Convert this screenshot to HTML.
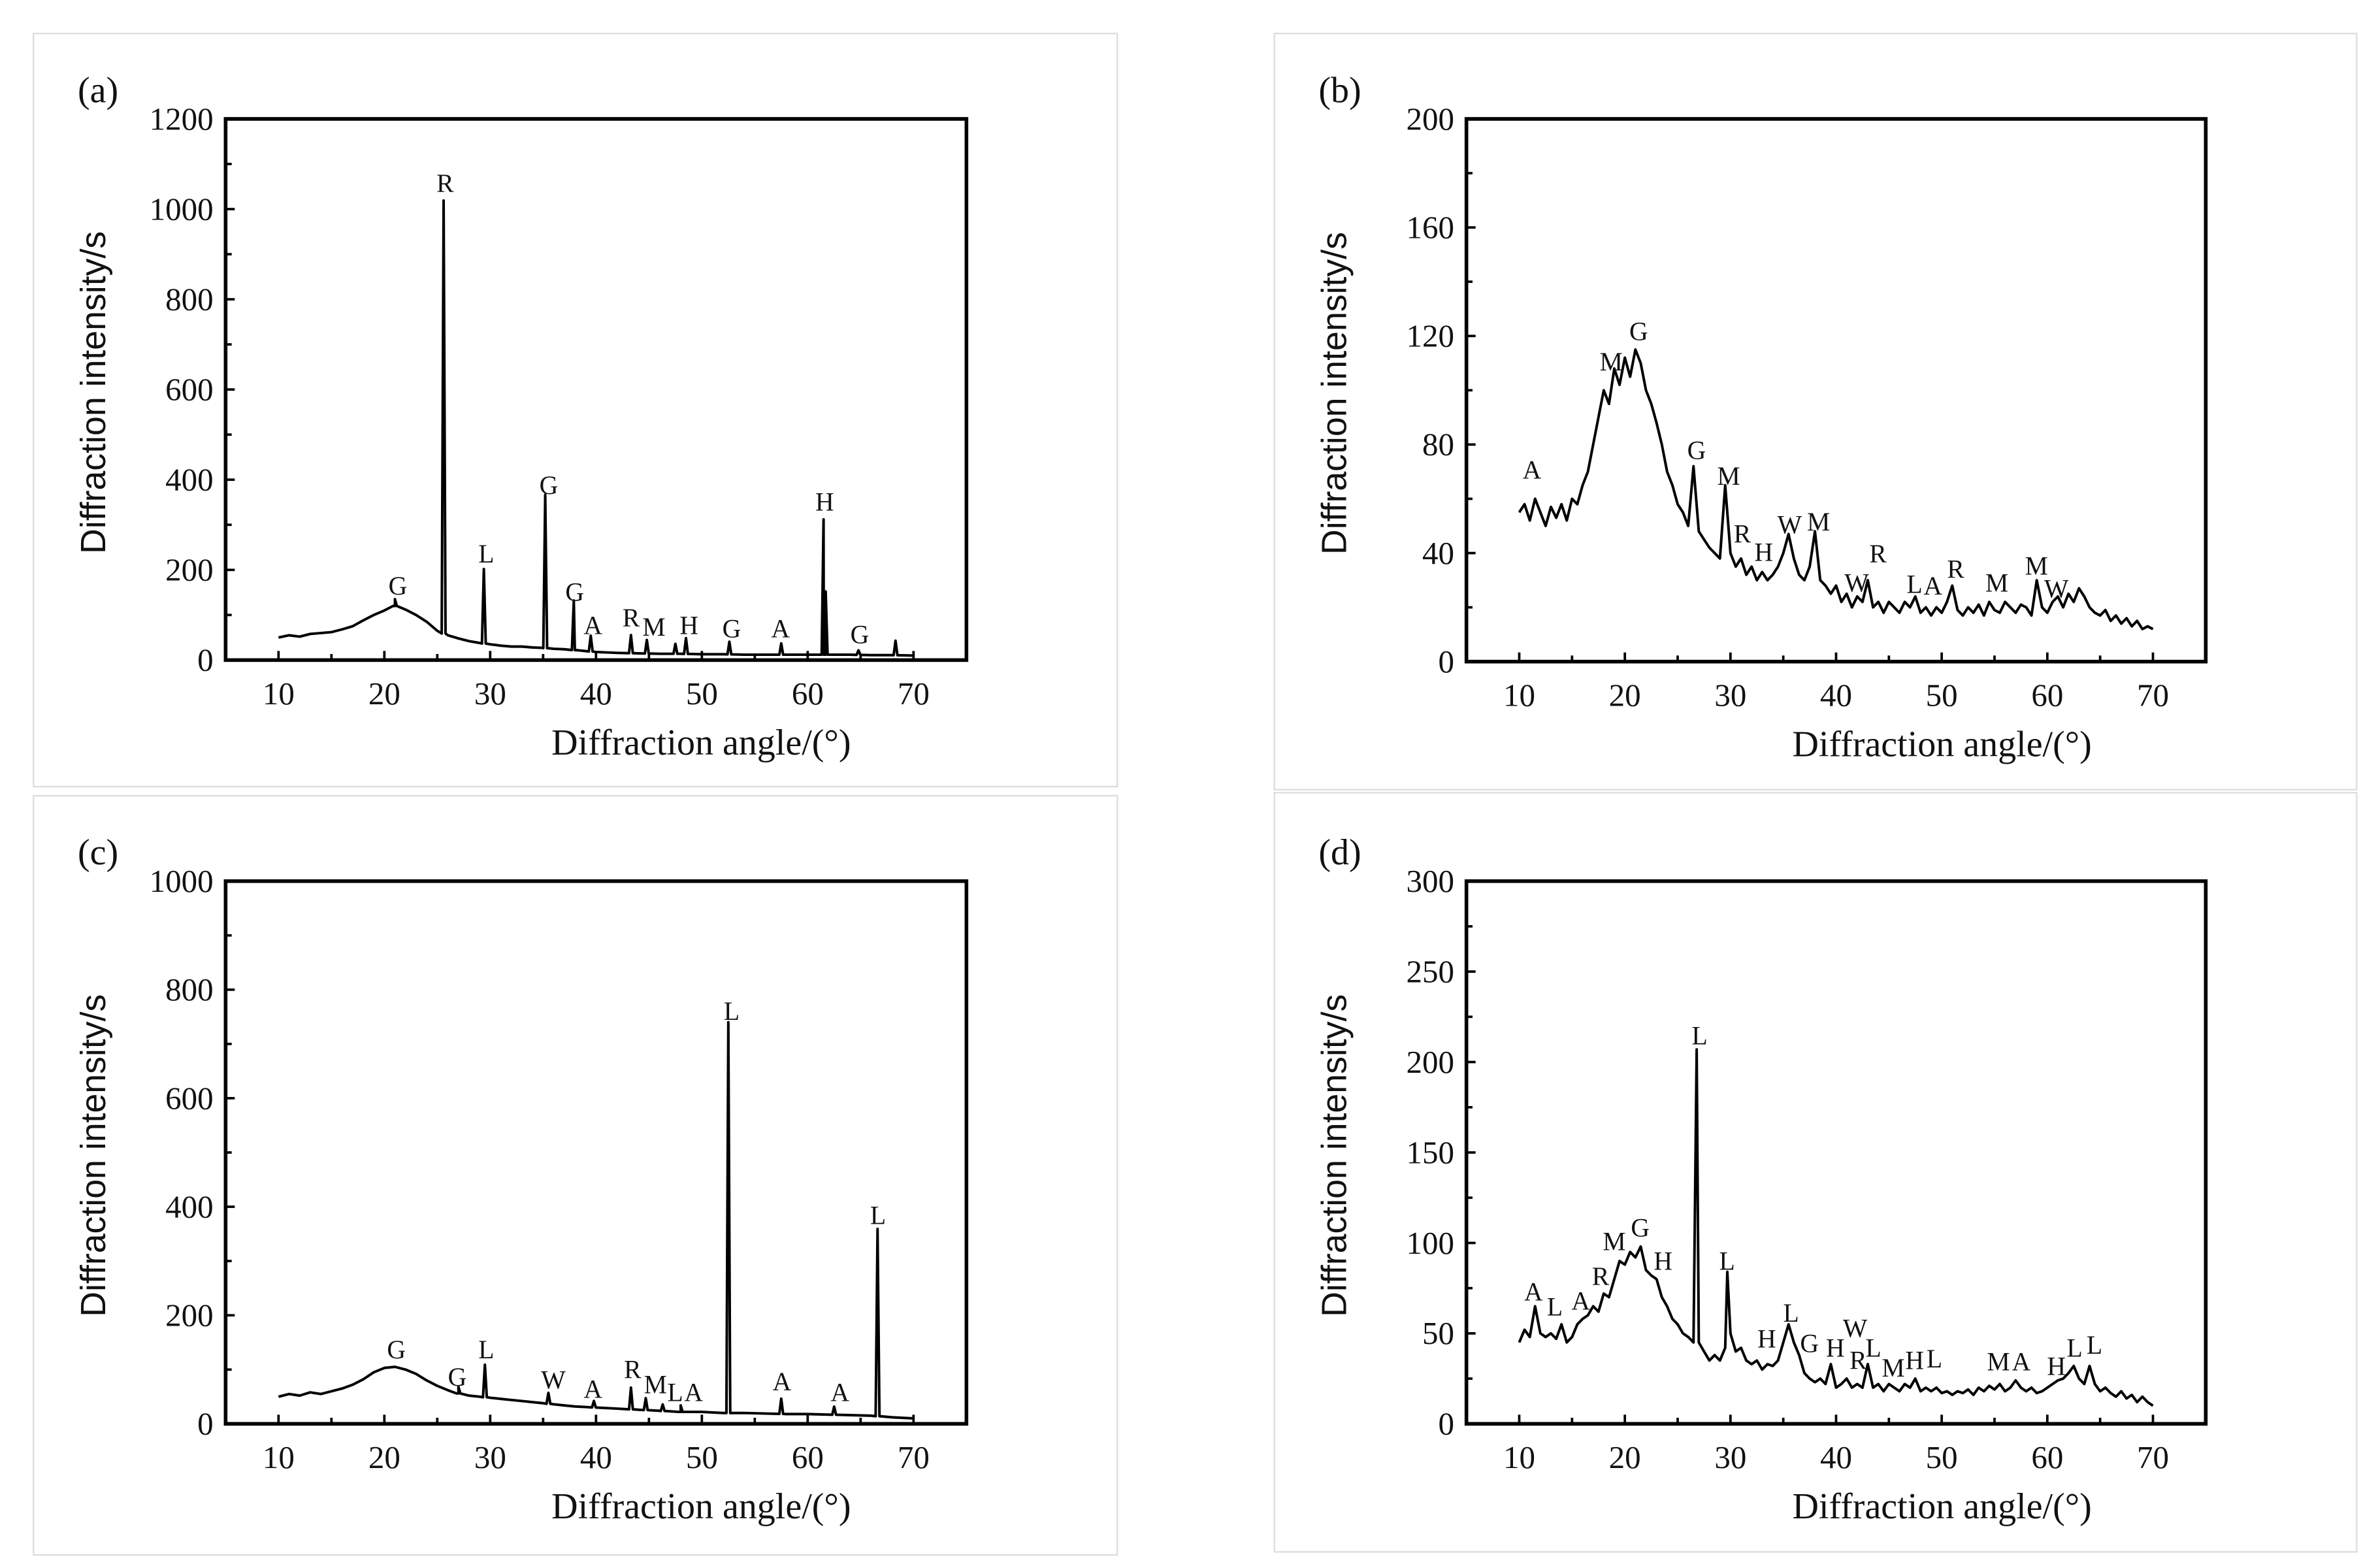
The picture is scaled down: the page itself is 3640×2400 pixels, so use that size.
<!DOCTYPE html>
<html><head><meta charset="utf-8"><style>
html,body{margin:0;padding:0;background:#fff;}
svg{display:block;}
.tk{font-family:"Liberation Serif",serif;font-size:21px;fill:#111;}
.ttl{font-family:"Liberation Serif",serif;font-size:24px;fill:#111;}
.yt{font-family:"Liberation Sans",sans-serif;font-size:23px;fill:#111;}
.lb{font-family:"Liberation Serif",serif;font-size:17px;fill:#111;}
</style></head><body>
<svg id="fig" width="3640" height="2400" viewBox="0 0 1560 1028.57" preserveAspectRatio="none" xmlns="http://www.w3.org/2000/svg"></svg>
<script>
// ---- panel (a) data ----
const aAngles=[10,11,12,13,14,15,16,17,18,19,20,21,22,23,24,25,26,27,28,29,30,31,32,33,34,35,36,37,38,39,40,42,44,46,48,50,52,54,56,58,60,62,64,66,68,70];
const aValues=[50,55,52,58,60,62,68,75,88,100,110,120,112,100,85,65,55,48,42,38,35,32,30,30,28,27,25,24,22,20,18,16,15,14,14,13,13,12,12,12,12,12,12,11,11,10];
const aPeakPos=[21,25.6,29.4,35.2,37.9,39.5,43.3,44.8,47.5,48.5,52.6,57.5,61.5,61.7,64.8,68.3];
const aPeakH=[15,960,165,340,110,35,40,30,22,35,28,25,300,140,10,32];
// ---- panel (b) data ----
const bAngles=[10,10.5,11,11.5,12,12.5,13,13.5,14,14.5,15,15.5,16,16.5,17,17.5,18,18.5,19,19.5,20,20.5,21,21.5,22,22.5,23,23.5,24,24.5,25,25.5,26,26.5,27,27.5,28,28.5,29,29.5,30,30.5,31,31.5,32,32.5,33,33.5,34,34.5,35,35.5,36,36.5,37,37.5,38,38.5,39,39.5,40,40.5,41,41.5,42,42.5,43,43.5,44,44.5,45,45.5,46,46.5,47,47.5,48,48.5,49,49.5,50,50.5,51,51.5,52,52.5,53,53.5,54,54.5,55,55.5,56,56.5,57,57.5,58,58.5,59,59.5,60,60.5,61,61.5,62,62.5,63,63.5,64,64.5,65,65.5,66,66.5,67,67.5,68,68.5,69,69.5,70];
const bValues=[55,58,52,60,55,50,57,53,58,52,60,58,65,70,80,90,100,95,108,102,112,105,115,110,100,95,88,80,70,65,58,55,50,72,48,45,42,40,38,65,40,35,38,32,35,30,33,30,32,35,40,47,38,32,30,35,48,30,28,25,28,22,25,20,24,22,30,20,22,18,22,20,18,22,20,24,18,20,17,20,18,22,28,19,17,20,18,21,17,22,19,18,22,20,18,21,20,17,30,20,18,22,24,20,25,22,27,24,20,18,17,19,15,17,14,16,13,15,12,13,12];
// ---- panel (c) data ----
const cAngles=[10,11,12,13,14,15,16,17,18,19,20,21,22,23,24,25,26,27,28,29,30,31,32,33,34,35,36,37,38,39,40,42,44,46,48,50,52,54,56,58,60,62,64,66,68,70];
const cValues=[50,55,52,58,55,60,65,72,82,95,103,105,100,92,80,70,62,56,52,50,48,46,44,42,40,38,36,34,32,31,30,28,26,24,22,22,20,20,19,18,18,17,16,15,12,10];
const cPeakPos=[27,29.5,35.5,39.8,43.3,44.7,46.3,48,52.5,57.5,62.5,66.6];
const cPeakH=[12,60,20,12,40,22,12,12,720,28,15,345];
// ---- panel (d) data ----
const dAngles=[10,10.5,11,11.5,12,12.5,13,13.5,14,14.5,15,15.5,16,16.5,17,17.5,18,18.5,19,19.5,20,20.5,21,21.5,22,22.5,23,23.5,24,24.5,25,25.5,26,26.5,26.8,27,27.5,28,28.5,29,29.5,29.7,30,30.5,31,31.5,32,32.5,33,33.5,34,34.5,35,35.5,36,36.5,37,37.5,38,38.5,39,39.5,40,40.5,41,41.5,42,42.5,43,43.5,44,44.5,45,45.5,46,46.5,47,47.5,48,48.5,49,49.5,50,50.5,51,51.5,52,52.5,53,53.5,54,54.5,55,55.5,56,56.5,57,57.5,58,58.5,59,59.5,60,60.5,61,61.5,62,62.5,63,63.5,64,64.5,65,65.5,66,66.5,67,67.5,68,68.5,69,69.5,70];
const dValues=[45,52,48,65,50,48,50,47,55,45,48,55,58,60,65,62,72,70,80,90,88,95,92,98,85,82,80,70,65,58,55,50,48,45,207,45,40,35,38,35,42,84,50,40,42,35,33,35,30,33,32,35,45,55,45,38,28,25,23,25,22,33,20,22,25,20,22,20,33,20,22,18,22,20,18,22,20,25,18,20,18,20,17,18,16,18,17,19,16,20,18,21,19,22,18,20,24,20,18,20,17,18,20,22,24,25,28,32,25,22,32,22,18,20,17,15,18,14,16,12,15,12,10];

const yTicksA=[0,200,400,600,800,1000,1200];
const yTicksB=[0,40,80,120,160,200];
const yTicksC=[0,200,400,600,800,1000];
const yTicksD=[0,50,100,150,200,250,300];
const xTicks=[10,20,30,40,50,60,70];

const labelsA=[["G",261,389],["R",292,125],["L",319,368],["G",360,323],["G",377,393],["A",389,415],["R",414,410],["M",429,416],["H",452,415],["G",480,417],["A",512,417],["H",541,334],["G",564,421]];
const labelsB=[["A",1005,313],["M",1057,242],["G",1075,222],["G",1113,300],["M",1134,317],["R",1143,355],["H",1157,367],["W",1174,349],["M",1193,347],["R",1232,368],["W",1218,387],["L",1256,388],["A",1268,389],["R",1283,378],["M",1310,387],["M",1336,376],["W",1349,391]];
const labelsC=[["G",260,890],["G",300,908],["L",319,890],["W",363,910],["A",389,916],["R",415,903],["M",430,913],["L",443,918],["A",455,918],["L",480,668],["A",513,911],["A",551,918],["L",576,802]];
const labelsD=[["A",1006,852],["L",1020,862],["A",1037,858],["R",1050,842],["M",1059,819],["G",1076,810],["H",1091,832],["L",1115,684],["L",1133,832],["H",1159,883],["L",1175,866],["G",1187,886],["H",1204,889],["W",1217,876],["R",1219,897],["L",1229,889],["M",1242,902],["H",1256,897],["L",1269,896],["M",1311,898],["A",1326,898],["H",1349,901],["L",1361,889],["L",1374,887]];

const NS="http://www.w3.org/2000/svg";
const svg=document.getElementById('fig');
function mk(tag,attrs,parent){const e=document.createElementNS(NS,tag);for(const k in attrs)e.setAttribute(k,attrs[k]);(parent||svg).appendChild(e);return e;}
function interp(xs,ys,x){if(x<=xs[0])return ys[0];for(let i=1;i<xs.length;i++){if(x<=xs[i]){const t=(x-xs[i-1])/(xs[i]-xs[i-1]);return ys[i-1]+t*(ys[i]-ys[i-1]);}}return ys[ys.length-1];}

function panel(id,box,frame,ymax,yTicks,angles,values,peakPos,peakH,labels,letter){
  const g=mk('g',{});
  
  
  const bx=mk('rect',{x:box[0],y:box[1],width:box[2]-box[0],height:box[3]-box[1],fill:'none',stroke:'#ddd','stroke-width':1},g);
  
  
  const [L,T,R,B]=frame;
  const xs=a=>L+(a-5)/70*(R-L);
  const ys=v=>B-v/ymax*(B-T);
  let pts=[];
  if(peakPos){
    let all=angles.map((a,i)=>[a,values[i]]);
    peakPos.forEach((p,i)=>{const b=interp(angles,values,p);all.push([p-0.18,b],[p,b+peakH[i]],[p+0.18,b]);});
    all.sort((u,v)=>u[0]-v[0]);
    pts=all;
  } else pts=angles.map((a,i)=>[a,values[i]]);
  const d=pts.map((q,i)=>(i?'L':'M')+xs(q[0]).toFixed(2)+' '+ys(q[1]).toFixed(2)).join(' ');
  const line=mk('path',{d:d,fill:'none',stroke:'#000','stroke-width':1.7,'stroke-linejoin':'round'},g);
  
  
  const fr=mk('rect',{x:L,y:T,width:R-L,height:B-T,fill:'none',stroke:'#000','stroke-width':2.4},g);
  
  
  for(let a=10;a<=70;a+=5){
    const maj=a%10===0;
    const t=mk('line',{x1:xs(a),x2:xs(a),y1:B,y2:B-(maj?6:4),stroke:'#000','stroke-width':1.6},g);
    
    
  }
  xTicks.forEach(a=>{
    const t=mk('text',{x:xs(a),y:B+29,'text-anchor':'middle',class:'tk'},g);t.textContent=a;
    
    
  });
  const step=yTicks[1]-yTicks[0];
  for(let v=0;v<=ymax+1e-9;v+=step/2){
    const maj=Math.abs(v/step-Math.round(v/step))<1e-6;
    const t=mk('line',{x1:L,x2:L+(maj?6:4),y1:ys(v),y2:ys(v),stroke:'#000','stroke-width':1.6},g);
    
    
  }
  yTicks.forEach(v=>{
    const t=mk('text',{x:L-8,y:ys(v)+7,'text-anchor':'end',class:'tk'},g);t.textContent=v;
    
    
  });
  const xt=mk('text',{x:L+312,y:B+62,'text-anchor':'middle',class:'ttl'},g);xt.textContent='Diffraction angle/(°)';
  
  
  const ycy=(T+B)/2+2;
  const yt=mk('text',{x:L-79,y:ycy,'text-anchor':'middle',class:'yt',transform:`rotate(-90 ${L-79} ${ycy})`},g);yt.textContent='Diffraction intensity/s';
  
  
  const pl=mk('text',{x:L-97,y:T-11,class:'ttl'},g);pl.textContent=letter;
  
  
  labels.forEach(l=>{
    const t=mk('text',{x:l[1],y:l[2]+1,'text-anchor':'middle',class:'lb'},g);t.textContent=l[0];
    
    
  });
}
panel('a',[22,22,733,516],[148,78,634,433],1200,yTicksA,aAngles,aValues,aPeakPos,aPeakH,labelsA,'(a)');
panel('b',[836,22,1546,518],[962,78,1447,434],200,yTicksB,bAngles,bValues,null,null,labelsB,'(b)');
panel('c',[22,522,733,1020],[148,578,634,934],1000,yTicksC,cAngles,cValues,cPeakPos,cPeakH,labelsC,'(c)');
panel('d',[836,520,1546,1018],[962,578,1447,934],300,yTicksD,dAngles,dValues,null,null,labelsD,'(d)');
</script>
</body></html>
